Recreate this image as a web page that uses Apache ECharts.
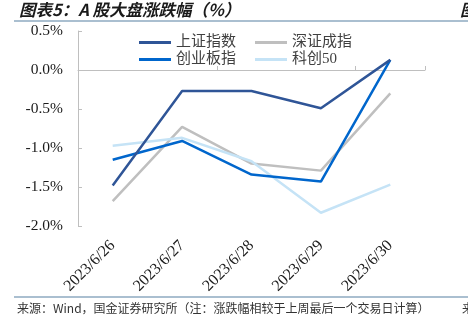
<!DOCTYPE html>
<html>
<head>
<meta charset="utf-8">
<script src="https://cdn.jsdelivr.net/npm/echarts@6/dist/echarts.min.js"></script>
<style>
  html, body { margin: 0; padding: 0; background: #fff; }
  #chart { width: 468px; height: 325px; }
</style>
</head>
<body>
<div id="chart"></div>
<script>
// Trading days of the week
const dates = ['2023/6/26', '2023/6/27', '2023/6/28', '2023/6/29', '2023/6/30'];

// Cumulative change vs. last trading day of previous week (%)
const shIndex = [-1.48, -0.27, -0.27, -0.49, 0.13];     // 上证指数
const szIndex = [-1.68, -0.73, -1.20, -1.29, -0.30];    // 深证成指
const cybIndex = [-1.15, -0.91, -1.34, -1.43, 0.13];    // 创业板指
const kc50Index = [-0.97, -0.87, -1.17, -1.83, -1.47];  // 科创50

const seriesNames = ['上证指数', '深证成指', '创业板指', '科创50'];
const seriesColors = ['#2F5597', '#BFBFBF', '#0066CC', '#C5E3F6'];

const serif = "'Liberation Serif', 'Times New Roman', 'Noto Sans CJK SC', serif";
const cjk = "'Noto Sans CJK SC', sans-serif";

const chart = echarts.init(document.getElementById('chart'), null, { renderer: 'canvas' });

const lineSeries = [shIndex, szIndex, cybIndex, kc50Index].map((data, i) => ({
  name: seriesNames[i],
  type: 'line',
  data: data,
  xAxisIndex: 0,
  yAxisIndex: 0,
  symbol: 'none',
  lineStyle: { width: 2.5, color: seriesColors[i] },
  itemStyle: { color: seriesColors[i] },
  z: i === 0 ? 5 : (i === 2 ? 4 : 3)
}));

const legendCommon = {
  left: 134,
  orient: 'horizontal',
  icon: 'rect',
  itemWidth: 32,
  itemHeight: 3,
  itemGap: 19,
  textStyle: { fontFamily: serif, fontSize: 15, color: '#404040' }
};

chart.setOption({
  animation: false,
  backgroundColor: '#ffffff',
  grid: { left: 78, right: 43, top: 31, bottom: 99, containLabel: false },
  legend: [
    Object.assign({}, legendCommon, { top: 30, data: ['上证指数', '深证成指'] }),
    Object.assign({}, legendCommon, { top: 47, data: ['创业板指', '科创50'] })
  ],
  xAxis: [
    {
      type: 'category',
      data: dates,
      position: 'bottom',
      axisLine: { show: false, onZero: false },
      axisTick: { show: false },
      axisLabel: {
        rotate: 45,
        margin: 17,
        fontFamily: serif,
        fontSize: 16,
        color: '#1a1a1a',
        interval: 0
      }
    },
    {
      type: 'category',
      data: dates,
      position: 'bottom',
      axisLine: { show: true, onZero: true, lineStyle: { color: '#BFBFBF', width: 1 } },
      axisTick: { show: true, inside: true, length: 4, lineStyle: { color: '#BFBFBF' } },
      axisLabel: { show: false }
    }
  ],
  yAxis: {
    type: 'value',
    min: -2,
    max: 0.5,
    interval: 0.5,
    axisLine: { show: true, lineStyle: { color: '#BFBFBF', width: 1 } },
    axisTick: { show: true, inside: true, length: 4, lineStyle: { color: '#BFBFBF' } },
    splitLine: { show: false },
    axisLabel: {
      margin: 15,
      fontFamily: serif,
      fontSize: 15.5,
      color: '#1a1a1a',
      formatter: v => v.toFixed(1) + '%'
    }
  },
  series: lineSeries,
  graphic: [
    {
      type: 'text', left: 19, top: 1,
      style: { text: '图表5：A 股大盘涨跌幅（%）', font: 'italic bold 16.5px ' + cjk, fill: '#1a1a1a' }
    },
    {
      type: 'text', left: 460, top: 1,
      style: { text: '图表6', font: 'italic bold 16.5px ' + cjk, fill: '#1a1a1a' }
    },
    {
      type: 'line', shape: { x1: 14, y1: 21, x2: 468, y2: 21 },
      style: { stroke: '#8EAAC0', lineWidth: 1.5 }
    },
    {
      type: 'line', shape: { x1: 14, y1: 297, x2: 468, y2: 297 },
      style: { stroke: '#8EAAC0', lineWidth: 1.5 }
    },
    {
      type: 'text', left: 17, top: 302,
      style: { text: '来源：Wind，国金证券研究所（注：涨跌幅相较于上周最后一个交易日计算）', font: '12px ' + cjk, fill: '#333333' }
    },
    {
      type: 'text', left: 462, top: 302,
      style: { text: '来源', font: '12px ' + cjk, fill: '#333333' }
    }
  ]
});
</script>
</body>
</html>
